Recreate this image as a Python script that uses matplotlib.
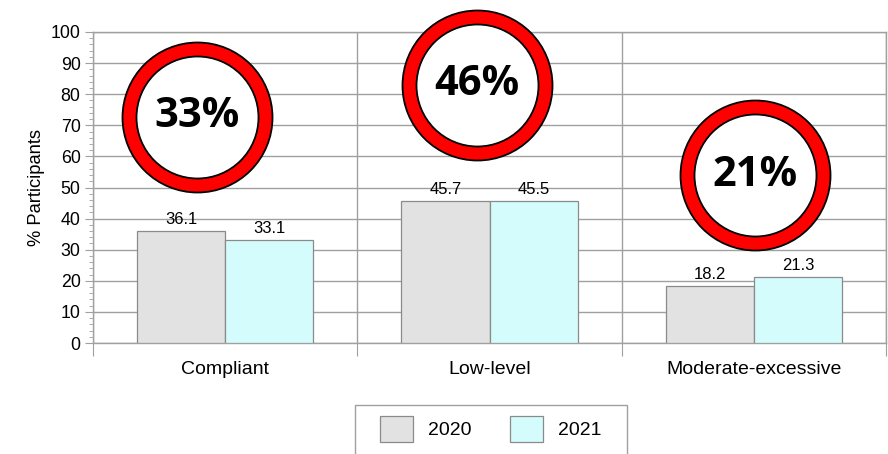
import matplotlib
matplotlib.use("Agg")
import matplotlib.pyplot as plt
from matplotlib.ticker import MultipleLocator
from matplotlib.patches import Rectangle
import numpy as np

categories = ["Compliant", "Low-level", "Moderate-excessive"]
years = ["2020", "2021"]
values_2020 = [36.1, 45.7, 18.2]
values_2021 = [33.1, 45.5, 21.3]
ring_labels = ["33%", "46%", "21%"]
# ring centres (category position, % value)
ring_x = [-0.108, 0.953, 2.006]
ring_y = [72.7, 83.0, 54.0]

plt.rcParams["font.family"] = ["Liberation Sans", "DejaVu Sans"]

W, H = 888, 454
fig = plt.figure(figsize=(W / 100, H / 100), dpi=100)
ax = fig.add_axes([93 / W, 111 / H, 793 / W, 311 / H])

x = np.arange(len(categories))
w = 0.333
c2020 = "#e2e2e2"
c2021 = "#d4fcfd"
edge = "#8a8a8a"

ax.bar(x - w / 2, values_2020, width=w, color=c2020, edgecolor=edge, linewidth=0.9,
       label=years[0], zorder=3)
ax.bar(x + w / 2, values_2021, width=w, color=c2021, edgecolor=edge, linewidth=0.9,
       label=years[1], zorder=3)

for xs, vals in ((x - w / 2, values_2020), (x + w / 2, values_2021)):
    for xi, v in zip(xs, vals):
        ax.text(xi, v + 1.3, f"{v:.1f}", ha="center", va="bottom", fontsize=12,
                zorder=4)

# red rings with the headline percentages
outer_d = 150 * 72 / 100
inner_d = 122 * 72 / 100
ax.scatter(ring_x, ring_y, s=outer_d ** 2, color="#ff0000", edgecolors="black",
           linewidths=1.3, zorder=5, clip_on=False)
ax.scatter(ring_x, ring_y, s=inner_d ** 2, color="white", edgecolors="black",
           linewidths=1.3, zorder=6, clip_on=False)
for rx, ry, lab in zip(ring_x, ring_y, ring_labels):
    ax.text(rx, ry, lab, ha="center", va="center", fontsize=30, fontweight="bold",
            family=["Open Sans", "DejaVu Sans"], zorder=7, clip_on=False)

ax.set_xlim(-0.5, 2.5)
ax.set_ylim(0, 100)
ax.set_yticks(range(0, 101, 10))
ax.yaxis.set_minor_locator(MultipleLocator(2))
ax.set_xticks([-0.5, 0.5, 1.5, 2.5])
ax.set_xticklabels([])
for xi, cat in zip(x, categories):
    ax.text(xi, -5.8, cat, ha="center", va="top", fontsize=14)

grid_c = "#a0a0a0"
ax.grid(axis="y", color=grid_c, linewidth=1.0, zorder=0)
ax.grid(axis="x", color=grid_c, linewidth=1.0, zorder=0)
for s in ax.spines.values():
    s.set_color(grid_c)
    s.set_linewidth(1.0)
ax.tick_params(axis="y", which="major", length=6, color=grid_c, labelsize=12.8, pad=3)
ax.tick_params(axis="y", which="minor", length=3, color=grid_c)
ax.tick_params(axis="x", which="major", length=9, color=grid_c)
ax.set_ylabel("% Participants", fontsize=13.2, labelpad=4)

# legend frame runs past the bottom edge of the figure
fig.patches.append(Rectangle((355 / W, -0.05), 272 / W, (H - 405) / H + 0.05,
                             transform=fig.transFigure, facecolor="white",
                             edgecolor=grid_c, linewidth=1.0, zorder=0))
leg = fig.legend(loc="upper left", bbox_to_anchor=(380 / W, 1 - 416 / H), ncol=2,
                 fontsize=14, frameon=False,
                 handlelength=1.7, handleheight=1.65, handletextpad=0.77,
                 columnspacing=1.96, borderpad=0, borderaxespad=0)

fig.savefig("out.png", dpi=100)
